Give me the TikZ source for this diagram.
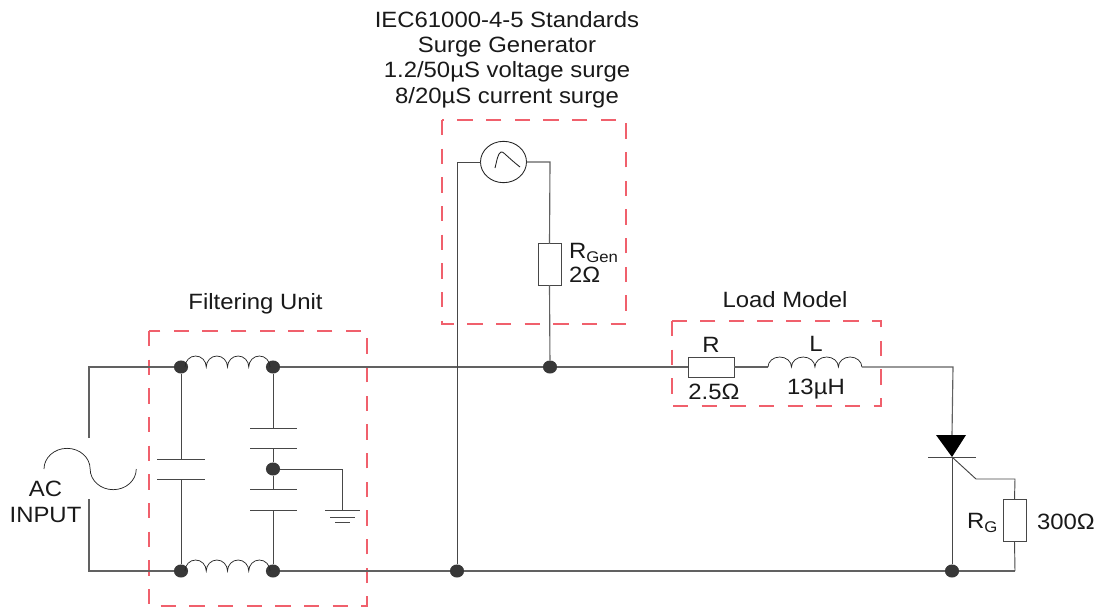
\documentclass[tikz,border=0pt]{standalone}
\usepackage{fontspec}
\usetikzlibrary{shapes.geometric}
\setmainfont[FakeStretch=1.08]{Liberation Sans}
\definecolor{grpred}{HTML}{F0606C}
\begin{document}
\begin{tikzpicture}[x=0.75pt,y=-0.75pt,
  every node/.style={inner sep=0pt,outer sep=0pt},
  wire/.style={draw=black!62,line width=0.85pt},
  thin wire/.style={draw=black!72,line width=0.7pt},
  grp/.style={draw=grpred,line width=1pt,dash pattern=on 11.5pt off 10pt},
  joint/.style={ellipse,fill=black!78,minimum width=10.6pt,minimum height=9.8pt},
  res/.style={draw=black!72,fill=white,line width=0.7pt,minimum width=#1},
  plate/.style={draw=black!72,line width=0.7pt},
  lbl/.style={font=\fontsize{16.6}{19.1}\selectfont,align=center,text=black!90},
  coil/.style={draw=black!85,line width=0.55pt}]
\useasboundingbox (0,0) rectangle (1100,608);

% coordinates
\coordinate (tl) at (89,367);
\coordinate (bl) at (89,571);
\coordinate (acT) at (89,438);
\coordinate (acB) at (89,499);
\coordinate (sine) at (44,469);
\coordinate (tr) at (953,367);
\coordinate (gk) at (976,479);
\coordinate (gc) at (1015,479);
\coordinate (gb) at (1015,571);
\coordinate (gnd) at (342,469);
\coordinate (gndP) at (342,510);
\coordinate (genL) at (457,162);
\coordinate (genR) at (550,162);

% group boxes
\draw[grp] (149,331) rectangle (367,606);
\draw[grp] (442,120) rectangle (626,324);
\draw[grp] (672,321) rectangle (881,406);

% joints
\node[joint] (j1) at (181,367) {};
\node[joint] (j2) at (273,367) {};
\node[joint] (j3) at (181,571) {};
\node[joint] (j4) at (273,571) {};
\node[joint] (j5) at (273,469) {};
\node[joint] (j6) at (550,367) {};
\node[joint] (j7) at (457,571) {};
\node[joint] (j8) at (952,571) {};

% components
\node[res=17.25pt,minimum height=31pt] (rgen) at (549.5,264.5) {};
\node[res=34.5pt,minimum height=15pt] (r) at (711,367) {};
\node[res=17.25pt,minimum height=31pt] (rg) at (1014.5,520.5) {};
\node[draw=black!85,fill=white,line width=0.65pt,ellipse,minimum width=34.5pt,minimum height=31pt] (gen) at (503.5,162) {};
\coordinate (lin) at (768,367);
\coordinate (lout) at (862,367);
\coordinate (f1a) at (185,367);
\coordinate (f2a) at (185,571);
\coordinate (thyA) at (952,435);
\coordinate (thyK) at (952,457);

% wiring
\draw[wire] (acT) -- (tl) -- (j1);
\draw[wire] (j2) -- (j6) -- (r.west);
\draw[wire] (r.east) -- (lin);
\draw[wire] (lout) -- (tr) -- (thyA);
\draw[wire] (acB) -- (bl) -- (j3);
\draw[wire] (j4) -- (j7) -- (j8) -- (gb);
\draw[thin wire] (gb) -- (rg.south);
\draw[thin wire] (rg.north) -- (gc) -- (gk) -- (thyK);
\draw[thin wire] (thyK) -- (j8);
\draw[thin wire] (genL) -- (gen.west);
\draw[thin wire] (genL) -- (j7);
\draw[wire] (gen.east) -- (genR) -- (rgen.north);
\draw[wire] (rgen.south) -- (j6);

% filter capacitors
\coordinate (c1t) at (181,459);
\coordinate (c1b) at (181,479);
\draw[thin wire] (j1) -- (c1t);
\draw[thin wire] (c1b) -- (j3);
\draw[plate] (157,459) -- (205,459);
\draw[plate] (157,479) -- (205,479);
\coordinate (c2t) at (273,428);
\coordinate (c2b) at (273,448);
\coordinate (c3t) at (273,489);
\coordinate (c3b) at (273,510);
\draw[thin wire] (j2) -- (c2t);
\draw[thin wire] (c2b) -- (j5);
\draw[thin wire] (j5) -- (c3t);
\draw[thin wire] (c3b) -- (j4);
\draw[plate] (250,428) -- (297,428);
\draw[plate] (250,448) -- (297,448);
\draw[plate] (250,489) -- (297,489);
\draw[plate] (250,510) -- (297,510);

% ground
\draw[thin wire] (j5) -- (gnd) -- (gndP);
\draw[plate] (325,510) -- (360,510);
\draw[plate] (330,517) -- (355,517);
\draw[plate] (335,522) -- (350,522);

% coils
\foreach \a/\h in {f1a/8.25pt,f2a/8.25pt}
  \draw[coil] (\a) arc[start angle=180,end angle=0,x radius=7.97pt,y radius=\h]
    arc[start angle=180,end angle=0,x radius=7.97pt,y radius=\h]
    arc[start angle=180,end angle=0,x radius=7.97pt,y radius=\h]
    arc[start angle=180,end angle=0,x radius=7.97pt,y radius=\h];
\draw[coil] (lin) arc[start angle=180,end angle=0,x radius=8.8pt,y radius=7.5pt]
    arc[start angle=180,end angle=0,x radius=8.8pt,y radius=7.5pt]
    arc[start angle=180,end angle=0,x radius=8.8pt,y radius=7.5pt]
    arc[start angle=180,end angle=0,x radius=8.8pt,y radius=7.5pt];

% AC source symbol
\draw[coil] (sine) arc[start angle=180,end angle=0,x radius=17.3pt,y radius=15.5pt]
    arc[start angle=180,end angle=360,x radius=17.3pt,y radius=15.5pt];

% surge waveform
\draw[coil,line width=0.65pt] (495,168) .. controls (497,160) and (498,153) .. (501,152) .. controls (503,151) and (505,155) .. (520,167);

% thyristor
\fill[black] (936,435) -- (966,435) -- (thyK) -- cycle;
\draw[plate] (928,457) -- (976,457);

% labels
\node[lbl] (title) at (507,59.5) {IEC61000-4-5 Standards\\Surge Generator\\1.2/50µS voltage surge\\8/20µS current surge};
\node[lbl] (filt) at (255.5,303.5) {Filtering Unit};
\node[lbl] (load) at (785,299.5) {Load Model};
\node[lbl] (ac) at (45.5,502) {AC\\INPUT};
\node[lbl,anchor=west,align=left] (rgl) at (569,263) {R\textsubscript{Gen}\\[-1pt]2Ω};
\node[lbl] (rl) at (711,344.5) {R};
\node[lbl] (rv) at (714,392) {2.5Ω};
\node[lbl] (ll) at (816,343.5) {L};
\node[lbl] (lv) at (816,389.5) {13µH};
\node[lbl,anchor=east] (rgn) at (998,523) {R\textsubscript{G}};
\node[lbl,anchor=west] (rgv) at (1037,522) {300Ω};
\end{tikzpicture}
\end{document}
